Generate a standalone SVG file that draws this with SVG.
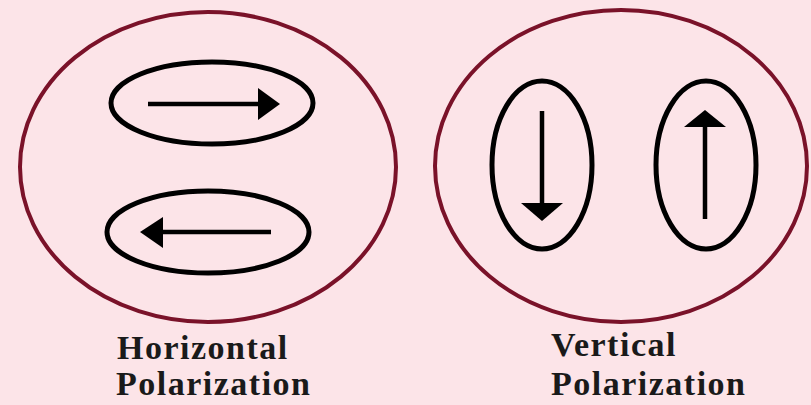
<svg xmlns="http://www.w3.org/2000/svg" width="811" height="405" viewBox="0 0 811 405">
<style>
.outer{fill:none;stroke:#7a1229;stroke-width:4}
.inner{fill:none;stroke:#000;stroke-width:5}
.shaft{stroke:#000;stroke-width:4.5;fill:none}
.head{fill:#000}
.lbl{font-family:"Liberation Serif","Times New Roman",serif;font-weight:bold;font-size:34px;letter-spacing:1.5px;fill:#1a1a1a}
</style>
<rect width="811" height="405" fill="#fce4e8"/>
<g id="horizontal">
  <ellipse class="outer" cx="208" cy="167" rx="188" ry="155"/>
  <g id="h-top">
    <ellipse class="inner" cx="212" cy="103" rx="101" ry="41"/>
    <line class="shaft" x1="148" y1="104" x2="262" y2="104"/>
    <polygon class="head" points="258,88 280,104 258,120"/>
  </g>
  <g id="h-bottom">
    <ellipse class="inner" cx="208" cy="232" rx="101" ry="41"/>
    <line class="shaft" x1="271" y1="232" x2="158" y2="232"/>
    <polygon class="head" points="163,217 140,232 163,248"/>
  </g>
  <text class="lbl" x="117" y="359">Horizontal</text>
  <text class="lbl" x="116" y="395">Polarization</text>
</g>
<g id="vertical">
  <ellipse class="outer" cx="621" cy="166" rx="186" ry="156"/>
  <g id="v-left">
    <ellipse class="inner" cx="542" cy="165" rx="50" ry="84"/>
    <line class="shaft" x1="542" y1="111" x2="542" y2="204"/>
    <polygon class="head" points="521,203 563,203 542,221"/>
  </g>
  <g id="v-right">
    <ellipse class="inner" cx="706" cy="165" rx="50" ry="84"/>
    <line class="shaft" x1="705" y1="219" x2="705" y2="124"/>
    <polygon class="head" points="684,127 726,127 705,110"/>
  </g>
  <text class="lbl" x="551" y="356">Vertical</text>
  <text class="lbl" x="551" y="395">Polarization</text>
</g>
</svg>
